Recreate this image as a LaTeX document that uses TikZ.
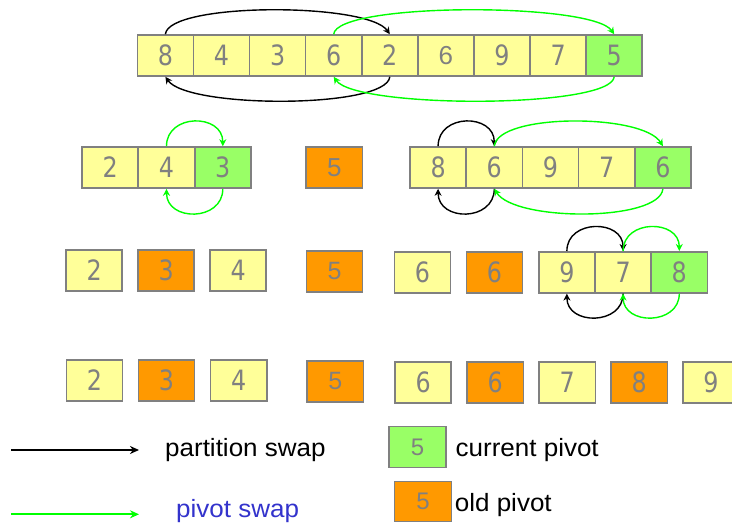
\documentclass[tikz,border=0pt]{standalone}
\usepackage{fontspec}
\setmainfont{Liberation Sans}
\newfontfamily\digitfont[FakeStretch=0.85]{DejaVu Sans}
\newfontfamily\legendfont[FakeStretch=1.04]{Liberation Sans}
\usetikzlibrary{arrows.meta}
\definecolor{cellyellow}{HTML}{FFFF99}
\definecolor{cellgreen}{HTML}{99FF66}
\definecolor{cellorange}{HTML}{FF9900}
\definecolor{cellborder}{HTML}{808080}
\definecolor{swapgreen}{HTML}{00FF00}
\definecolor{legendblue}{HTML}{3333CC}
\begin{document}
\begin{tikzpicture}[x=1pt,y=-1pt,
  cell/.style={draw=cellborder, line width=1.6pt, minimum width=56.1pt, minimum height=41pt,
    inner sep=0pt, text=cellborder, font=\digitfont\fontsize{28}{30}\selectfont},
  yc/.style={cell, fill=cellyellow},
  gc/.style={cell, fill=cellgreen},
  oc/.style={cell, fill=cellorange},
  ardigit/.style={font=\fontsize{#1}{#1}\selectfont},
  pswap/.style={draw=black, line width=1.4pt, -{Stealth[length=7pt,width=7pt]}},
  vswap/.style={draw=swapgreen, line width=1.4pt, -{Stealth[length=7pt,width=7pt]}},
  legtext/.style={anchor=base west, inner sep=0pt, font=\legendfont\fontsize{25}{28}\selectfont}
]
\useasboundingbox (0,0) rectangle (732,529);

% ---- row 1
\node[yc] (t1) at (165.4,55.5) {8};
\node[yc] (t2) at (221.5,55.5) {4};
\node[yc] (t3) at (277.6,55.5) {3};
\node[yc] (t4) at (333.7,55.5) {6};
\node[yc] (t5) at (389.8,55.5) {2};
\node[yc,ardigit=26] (t6) at (445.9,55.5) {6};
\node[yc] (t7) at (502.0,55.5) {9};
\node[yc] (t8) at (558.1,55.5) {7};
\node[gc] (t9) at (614.2,55.5) {5};

\draw[pswap] (t1.north) .. controls +(3,-32) and +(-22,-32) .. (t5.north);
\draw[pswap] (t5.south) .. controls +(-3,32) and +(22,32) .. (t1.south);
\draw[vswap] (t4.north) .. controls +(3,-32) and +(-22,-32) .. (t9.north);
\draw[vswap] (t9.south) .. controls +(-3,32) and +(22,32) .. (t4.south);

% ---- row 2
\node[yc] (a1) at (110.2,167.5) {2};
\node[yc] (a2) at (166.5,167.5) {4};
\node[gc] (a3) at (222.8,167.5) {3};
\node[oc,ardigit=26] (a4) at (334.3,167.5) {5};

\draw[vswap] (a2.north) .. controls +(0,-33) and +(0,-33) .. (a3.north);
\draw[vswap] (a3.south) .. controls +(0,33) and +(0,33) .. (a2.south);

\node[yc] (b1) at (438.1,167.5) {8};
\node[yc] (b2) at (494.3,167.5) {6};
\node[yc] (b3) at (550.5,167.5) {9};
\node[yc] (b4) at (606.7,167.5) {7};
\node[gc] (b5) at (662.9,167.5) {6};

\draw[pswap] (b1.north) .. controls +(0,-33) and +(0,-33) .. (b2.north);
\draw[pswap] (b2.south) .. controls +(0,33) and +(0,33) .. (b1.south);
\draw[vswap] (b2.north) .. controls +(3,-33) and +(-20,-33) .. (b5.north);
\draw[vswap] (b5.south) .. controls +(-3,33) and +(20,33) .. (b2.south);

% ---- row 3
\node[yc] (c1) at (94.2,270.5) {2};
\node[oc] (c2) at (166.2,270.5) {3};
\node[yc] (c3) at (238.2,270.5) {4};
\node[oc,ardigit=25] (c4) at (334.5,271.3) {5};
\node[yc] (c5) at (422.5,272.3) {6};
\node[oc] (c6) at (494.5,272.3) {6};
\node[yc] (c7) at (566.9,272.3) {9};
\node[yc] (c8) at (623.1,272.3) {7};
\node[gc] (c9) at (679.3,272.3) {8};

\draw[pswap] (c7.north) .. controls +(0,-32) and +(0,-32) .. (c8.north);
\draw[vswap] (c8.north) .. controls +(0,-32) and +(0,-32) .. (c9.north);
\draw[pswap] (c8.south) .. controls +(0,32) and +(0,32) .. (c7.south);
\draw[vswap] (c9.south) .. controls +(0,32) and +(0,32) .. (c8.south);

% ---- row 4
\node[yc] (d1) at (94.4,380.4) {2};
\node[oc] (d2) at (166.5,380.4) {3};
\node[yc] (d3) at (238.7,380.4) {4};
\node[oc,ardigit=25] (d4) at (335.3,381.4) {5};
\node[yc] (d5) at (423.2,382.3) {6};
\node[oc] (d6) at (495.3,382.3) {6};
\node[yc] (d7) at (567.3,382.3) {7};
\node[oc] (d8) at (639.3,382.3) {8};
\node[yc] (d9) at (711.0,382.3) {9};

% ---- legend
\coordinate (pa) at (11,450);
\coordinate (pb) at (139,450);
\draw[pswap, line width=2pt, -{Stealth[length=9pt,width=8pt]}] (pa) -- (pb);
\coordinate (va) at (11,514.3);
\coordinate (vb) at (139,514.3);
\draw[vswap, line width=2pt, -{Stealth[length=9pt,width=8pt]}] (va) -- (vb);
\node[legtext] (lpart) at (165,456.7) {partition swap};
\node[legtext, text=legendblue] (lpiv) at (176,518) {pivot swap};

\node[gc, minimum width=57pt, minimum height=41pt, ardigit=24] (lg) at (417.5,447.2) {5};
\node[oc, minimum width=57pt, minimum height=40pt, ardigit=24] (lo) at (423.1,501.7) {5};
\node[legtext] (lcur) at (455.5,456.7) {current pivot};
\node[legtext] (lold) at (454.7,511.7) {old pivot};
\end{tikzpicture}
\end{document}
